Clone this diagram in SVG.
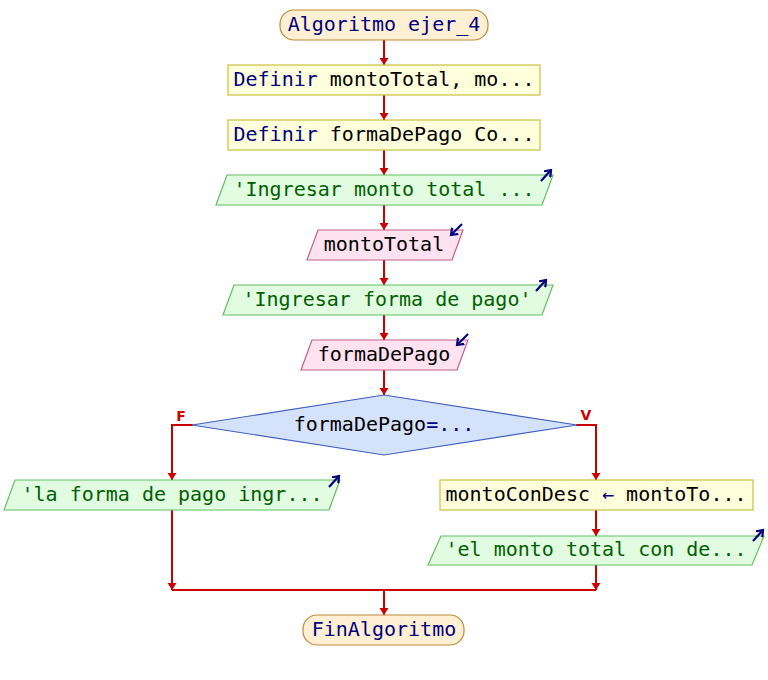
<svg xmlns="http://www.w3.org/2000/svg" width="768" height="680" viewBox="0 0 768 680">
<style>
  .t { font-family: "DejaVu Sans Mono", "Liberation Mono", monospace; font-size: 20px; text-anchor: middle; }
  .kw { fill: #000080; }
  .id { fill: #000000; }
  .str { fill: #006000; }
  .term { fill: #fff0d4; stroke: #c08838; stroke-width: 1.2; }
  .proc { fill: #ffffdc; stroke: #c8c040; stroke-width: 1.2; }
  .out { fill: #e2fce2; stroke: #60c060; stroke-width: 1.2; }
  .in { fill: #ffe2f0; stroke: #c06088; stroke-width: 1.2; }
  .dec { fill: #d4e2fc; stroke: #4060c0; stroke-width: 1.2; }
  .ln { fill: none; stroke: #cc0000; stroke-width: 2; }
  .ico { fill: none; stroke: #000080; stroke-width: 2.2; }
  .lbl { font-family: "DejaVu Sans", "Liberation Sans", sans-serif; font-size: 14px; font-weight: bold; fill: #cc0000; text-anchor: middle; }
</style>
<defs>
  <marker id="ah" markerUnits="userSpaceOnUse" markerWidth="12" markerHeight="10" refX="7" refY="5" orient="auto">
    <path d="M0,0.5 L7,5 L0,9.5 Z" fill="#cc0000"/>
  </marker>
  <marker id="ih" markerUnits="userSpaceOnUse" markerWidth="10" markerHeight="10" refX="6" refY="5" orient="auto">
    <path d="M0,0.5 L6,5 L0,9.5" fill="none" stroke="#000080" stroke-width="2.2"/>
  </marker>
</defs>
<rect width="768" height="680" fill="#ffffff"/>

<g id="connectors">
  <path class="ln" d="M384,40 V65" marker-end="url(#ah)"/>
  <path class="ln" d="M384,95 V120" marker-end="url(#ah)"/>
  <path class="ln" d="M384,150 V175" marker-end="url(#ah)"/>
  <path class="ln" d="M384,205 V230" marker-end="url(#ah)"/>
  <path class="ln" d="M384,260 V285" marker-end="url(#ah)"/>
  <path class="ln" d="M384,315 V340" marker-end="url(#ah)"/>
  <path class="ln" d="M384,370 V395" marker-end="url(#ah)"/>
  <path class="ln" d="M193,425 H172 V480" marker-end="url(#ah)"/>
  <path class="ln" d="M576,425 H596 V480" marker-end="url(#ah)"/>
  <path class="ln" d="M596,510 V536" marker-end="url(#ah)"/>
  <path class="ln" d="M172,510 V590" marker-end="url(#ah)"/>
  <path class="ln" d="M596,565 V590" marker-end="url(#ah)"/>
  <path class="ln" d="M172,590 H596"/>
  <path class="ln" d="M384,590 V615" marker-end="url(#ah)"/>
  <text class="lbl" x="181" y="421">F</text>
  <text class="lbl" x="586" y="420">V</text>
</g>

<g id="start">
  <rect class="term" x="280" y="10" width="208" height="30" rx="14" ry="14"/>
  <text class="t kw" x="384" y="31">Algoritmo ejer_4</text>
</g>

<g id="def1">
  <rect class="proc" x="228" y="65" width="312" height="30"/>
  <text class="t" x="384" y="86"><tspan class="kw">Definir</tspan><tspan class="id"> montoTotal, mo...</tspan></text>
</g>

<g id="def2">
  <rect class="proc" x="228" y="120" width="312" height="30"/>
  <text class="t" x="384" y="141"><tspan class="kw">Definir</tspan><tspan class="id"> formaDePago Co...</tspan></text>
</g>

<g id="out1">
  <polygon class="out" points="227,175 553,175 542,205 216,205"/>
  <text class="t str" x="384" y="196">'Ingresar monto total ...</text>
  <path class="ico" d="M541,181 L551,170" marker-end="url(#ih)"/>
</g>

<g id="in1">
  <polygon class="in" points="318,230 463,230 452,260 307,260"/>
  <text class="t id" x="384" y="251">montoTotal</text>
  <path class="ico" d="M462,224 L451,235" marker-end="url(#ih)"/>
</g>

<g id="out2">
  <polygon class="out" points="234,285 553,285 542,315 223,315"/>
  <text class="t str" x="387" y="306">'Ingresar forma de pago'</text>
  <path class="ico" d="M536,291 L546,280" marker-end="url(#ih)"/>
</g>

<g id="in2">
  <polygon class="in" points="312,340 468,340 457,370 301,370"/>
  <text class="t id" x="384" y="361">formaDePago</text>
  <path class="ico" d="M468,334 L457,345" marker-end="url(#ih)"/>
</g>

<g id="decision">
  <polygon class="dec" points="384,395 577,425 384,455 192,425"/>
  <text class="t" x="384" y="431"><tspan class="id">formaDePago</tspan><tspan class="kw">=...</tspan></text>
</g>

<g id="outF">
  <polygon class="out" points="15,480 340,480 329,510 4,510"/>
  <text class="t str" x="172" y="501">'la forma de pago ingr...</text>
  <path class="ico" d="M329,487 L339,476" marker-end="url(#ih)"/>
</g>

<g id="assign">
  <rect class="proc" x="440" y="480" width="313" height="30"/>
  <text class="t" x="596" y="501"><tspan class="id">montoConDesc </tspan><tspan class="kw">←</tspan><tspan class="id"> montoTo...</tspan></text>
</g>

<g id="outV">
  <polygon class="out" points="441,536 764,536 752,565 428,565"/>
  <text class="t str" x="596" y="556">'el monto total con de...</text>
  <path class="ico" d="M753,541 L763,530" marker-end="url(#ih)"/>
</g>

<g id="end">
  <rect class="term" x="303" y="615" width="161" height="30" rx="14" ry="14"/>
  <text class="t kw" x="384" y="636">FinAlgoritmo</text>
</g>
</svg>
